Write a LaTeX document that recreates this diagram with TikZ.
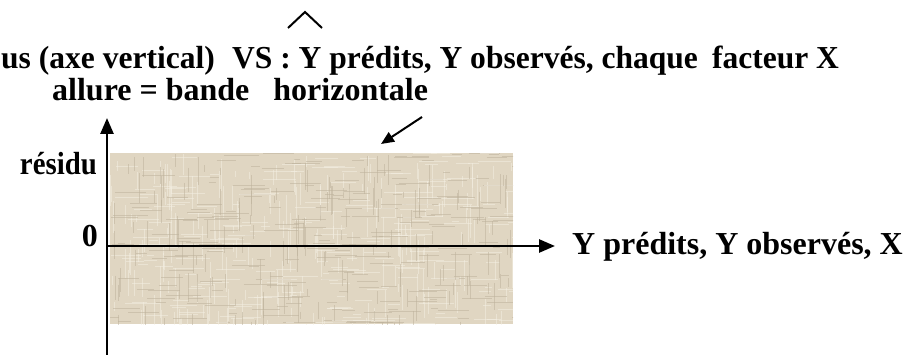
\documentclass[tikz,border=0pt]{standalone}
\usepackage{fontspec}
\setmainfont{Liberation Serif}
\usetikzlibrary{arrows.meta}
\definecolor{beige}{RGB}{224,214,194}
\definecolor{beigelight}{RGB}{244,238,226}
\definecolor{beigedark}{RGB}{190,178,156}
\tikzset{
  lbl/.style={font=\fontsize{32}{38}\selectfont\bfseries, inner sep=0pt},
  axis/.style={line width=2.6pt, -{Triangle[length=16pt,width=13pt]}},
  pointer/.style={line width=2pt, -{Triangle[length=13pt,width=11pt]}},
  grainv/.style={line width=0.9pt, opacity=0.55},
  grainh/.style={line width=0.9pt, opacity=0.55},
}
\begin{document}
\begin{tikzpicture}[x=1pt,y=-1pt]
\useasboundingbox (0,0) rectangle (910,355);
% textured band
\fill[beige] (110,153) rectangle (513,324);
\begin{scope}
\clip (110,153) rectangle (513,324);
\pgfmathsetseed{7}
\foreach \i in {1,...,220}{
  \pgfmathsetmacro{\xx}{110+rnd*403}
  \pgfmathsetmacro{\yy}{153+rnd*171}
  \pgfmathsetmacro{\ll}{6+rnd*30}
  \draw[grainv, beigelight] (\xx,\yy) -- ++(0,\ll);
}
\foreach \i in {1,...,220}{
  \pgfmathsetmacro{\xx}{110+rnd*403}
  \pgfmathsetmacro{\yy}{153+rnd*171}
  \pgfmathsetmacro{\ll}{6+rnd*30}
  \draw[grainh, beigedark] (\xx,\yy) -- ++(\ll,0);
}
\foreach \i in {1,...,220}{
  \pgfmathsetmacro{\xx}{110+rnd*403}
  \pgfmathsetmacro{\yy}{153+rnd*171}
  \pgfmathsetmacro{\ll}{6+rnd*30}
  \draw[grainh, beigelight] (\xx,\yy) -- ++(\ll,0);
}
\foreach \i in {1,...,160}{
  \pgfmathsetmacro{\xx}{110+rnd*403}
  \pgfmathsetmacro{\yy}{153+rnd*171}
  \pgfmathsetmacro{\ll}{6+rnd*25}
  \draw[grainv, beigedark] (\xx,\yy) -- ++(0,\ll);
}
\end{scope}
% title lines
\node[lbl, anchor=base west] (t1) at (1,69)
  {\scalebox{0.985}[1]{us (axe vertical)\hspace{0.55em}VS : Y prédits, Y observés, chaque\hspace{0.45em}facteur X}};
\node[lbl, anchor=base west] (t2) at (52,101)
  {allure = bande\hspace{0.75em}horizontale};
\draw[line width=2pt] (288,28) -- (305,12) -- (322,28);
% pointer arrow
\coordinate (p1) at (422,117);
\coordinate (p2) at (381,144);
\draw[pointer] (p1) -- (p2);
% axes
\coordinate (o) at (107,246);
\coordinate (vb) at (107,355);
\coordinate (vt) at (107,118);
\coordinate (he) at (555,246);
\draw[axis] (vb) -- (vt);
\draw[axis] (o) -- (he);
\node[lbl, anchor=base east] (res) at (97,175) {\scalebox{0.9}[1]{résidu}};
\node[lbl, anchor=base east] (zero) at (98,247) {0};
\node[lbl, anchor=base west] (xl) at (572,255) {Y prédits, Y observés, X};
\end{tikzpicture}
\end{document}
